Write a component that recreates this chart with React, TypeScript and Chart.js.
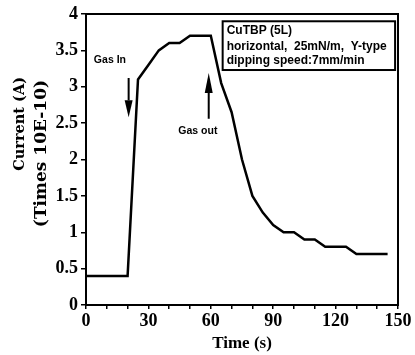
import { useEffect, useRef } from "react";
import { Chart, registerables } from "chart.js";

Chart.register(...registerables);

// ---- data ----
const timeSeconds = [0, 20, 25, 30, 35, 40, 45, 50, 55, 60, 65, 70, 75, 80, 85, 90, 95, 100, 105, 110, 115, 120, 125, 130, 135, 140, 145];
const currentValues = [0.4, 0.4, 3.1, 3.3, 3.5, 3.6, 3.6, 3.7, 3.7, 3.7, 3.05, 2.65, 2.0, 1.5, 1.27, 1.1, 1.0, 1.0, 0.9, 0.9, 0.8, 0.8, 0.8, 0.7, 0.7, 0.7, 0.7];
const xLabelValues = [0, 30, 60, 90, 120, 150];
const yTitleLines = ["Current (A)", "(Times 10E-10)"];
const xTitle = "Time (s)";
const noteLines = ["CuTBP (5L)", "horizontal,  25mN/m,  Y-type", "dipping speed:7mm/min"];
const gasInLabel = "Gas In";
const gasOutLabel = "Gas out";

function drawArrow(ctx: CanvasRenderingContext2D, x: number, yTail: number, yHead: number, headLen: number, halfW: number) {
  const dir = yHead > yTail ? 1 : -1;
  ctx.beginPath();
  ctx.moveTo(x, yTail);
  ctx.lineTo(x, yHead - dir * headLen);
  ctx.lineWidth = 2;
  ctx.stroke();
  ctx.beginPath();
  ctx.moveTo(x, yHead);
  ctx.lineTo(x - halfW, yHead - dir * headLen);
  ctx.lineTo(x + halfW, yHead - dir * headLen);
  ctx.closePath();
  ctx.fill();
}

const decorPlugin = {
  id: "decor",
  afterDraw(chart: any) {
    const { ctx, chartArea: a, scales } = chart;
    const x = scales.x;
    const y = scales.y;
    ctx.save();
    ctx.strokeStyle = "#000";
    ctx.fillStyle = "#000";
    ctx.lineWidth = 2;
    ctx.strokeRect(a.left, a.top, a.right - a.left, a.bottom - a.top);

    ctx.font = "bold 10.5px 'Liberation Sans', Arial, sans-serif";
    ctx.textAlign = "center";
    ctx.textBaseline = "middle";
    ctx.fillText(gasInLabel, x.getPixelForValue(11.5), y.getPixelForValue(3.37));
    drawArrow(ctx, x.getPixelForValue(20.5), y.getPixelForValue(3.12), y.getPixelForValue(2.58), 17, 4);

    ctx.fillText(gasOutLabel, x.getPixelForValue(53.8), y.getPixelForValue(2.39));
    drawArrow(ctx, x.getPixelForValue(59), y.getPixelForValue(2.56), y.getPixelForValue(3.19), 20, 4);

    const bl = x.getPixelForValue(65.7);
    const br = x.getPixelForValue(148.6);
    const bt = y.getPixelForValue(3.9);
    const bb = y.getPixelForValue(3.23);
    ctx.lineWidth = 2;
    ctx.strokeRect(bl, bt, br - bl, bb - bt);
    ctx.save();
    ctx.beginPath();
    ctx.rect(bl, bt, br - bl, bb - bt);
    ctx.clip();
    ctx.font = "bold 12px 'Liberation Sans', Arial, sans-serif";
    ctx.textAlign = "left";
    ctx.textBaseline = "alphabetic";
    const baseVals = [3.72, 3.51, 3.31];
    noteLines.forEach((t, i) => {
      ctx.fillText(t, bl + 4, y.getPixelForValue(baseVals[i]));
    });
    ctx.restore();

    ctx.textBaseline = "middle";
    ctx.textAlign = "right";
    ctx.save();
    ctx.translate(20, 77);
    ctx.rotate(-Math.PI / 2);
    ctx.font = "bold 14.5px 'DejaVu Serif', serif";
    ctx.fillText(yTitleLines[0], 0, 0);
    ctx.restore();
    ctx.save();
    ctx.translate(42, 80);
    ctx.rotate(-Math.PI / 2);
    ctx.font = "bold 17px 'DejaVu Serif', serif";
    ctx.fillText(yTitleLines[1], 0, 0);
    ctx.restore();

    ctx.font = "bold 17px 'Liberation Serif', serif";
    ctx.textAlign = "center";
    ctx.textBaseline = "middle";
    ctx.fillText(xTitle, (a.left + a.right) / 2, 344);

    ctx.restore();
  },
};

export default function App() {
  const canvasRef = useRef<HTMLCanvasElement | null>(null);

  useEffect(() => {
    const canvas = canvasRef.current;
    if (!canvas) return;
    const chart = new Chart(canvas, {
      type: "line",
      data: {
        datasets: [
          {
            data: timeSeconds.map((t, i) => ({ x: t, y: currentValues[i] })),
            borderColor: "#000",
            borderWidth: 2.5,
            pointRadius: 0,
            tension: 0,
            fill: false,
          },
        ],
      },
      options: {
        animation: false,
        responsive: false,
        devicePixelRatio: 1,
        layout: { padding: { top: 14, right: 17, left: 0, bottom: 0 } },
        plugins: { legend: { display: false }, tooltip: { enabled: false } },
        scales: {
          x: {
            type: "linear",
            min: 0,
            max: 150,
            afterFit: (s: any) => {
              s.height = 50;
            },
            border: { display: true, color: "#000", width: 2 },
            grid: { drawOnChartArea: false, tickLength: 4, color: "#000", lineWidth: 1.5 },
            ticks: {
              stepSize: 10,
              autoSkip: false,
              maxRotation: 0,
              padding: 2,
              color: "#000",
              font: { family: "'Liberation Serif', serif", size: 18, weight: "bold" },
              callback: (v: any) => (xLabelValues.includes(Number(v)) ? String(v) : ""),
            },
          },
          y: {
            type: "linear",
            min: 0,
            max: 4,
            afterFit: (s: any) => {
              s.width = 86;
            },
            border: { display: true, color: "#000", width: 2 },
            grid: { drawOnChartArea: false, tickLength: 5, color: "#000", lineWidth: 1.5 },
            ticks: {
              stepSize: 0.5,
              padding: 3,
              color: "#000",
              font: { family: "'Liberation Serif', serif", size: 18, weight: "bold" },
              callback: (v: any) => String(v),
            },
          },
        },
      },
      plugins: [decorPlugin],
    });
    return () => chart.destroy();
  }, []);

  return (
    <div style={{ position: "absolute", left: 0, top: 0, width: 415, height: 355, background: "#fff" }}>
      <canvas ref={canvasRef} width={415} height={355} style={{ width: 415, height: 355, display: "block" }} />
    </div>
  );
}
